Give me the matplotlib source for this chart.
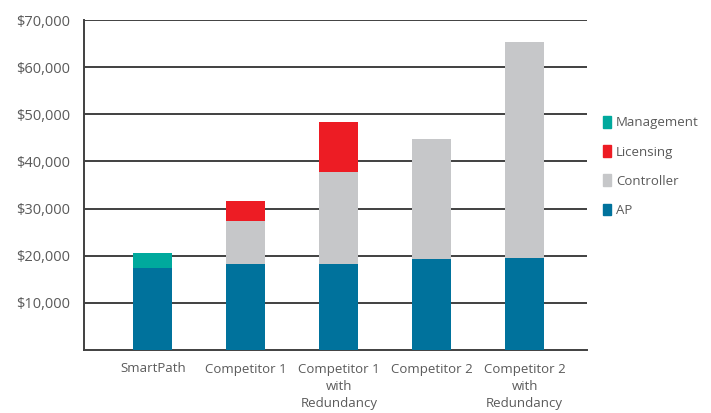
import matplotlib
matplotlib.use("Agg")
import matplotlib.pyplot as plt
from matplotlib.patches import Patch
import numpy as np

categories = ["SmartPath", "Competitor 1", "Competitor 1\nwith\nRedundancy",
              "Competitor 2", "Competitor 2\nwith\nRedundancy"]
ap = [17400, 18200, 18200, 19300, 19500]
controller = [0, 9200, 19600, 25500, 45800]
licensing = [0, 4200, 10600, 0, 0]
management = [3200, 0, 0, 0, 0]
yticks = [10000, 20000, 30000, 40000, 50000, 60000, 70000]
ytick_labels = ["$10,000", "$20,000", "$30,000", "$40,000", "$50,000", "$60,000", "$70,000"]

c_ap = "#00729C"
c_ctrl = "#C6C7C9"
c_lic = "#ED1C24"
c_mgmt = "#00A99D"
txt = "#5a5a5a"
grid = "#404040"

plt.rcParams['font.family'] = ['Open Sans', 'DejaVu Sans']

fig = plt.figure(figsize=(7.11, 4.13), dpi=100)
ax = fig.add_axes([84/711, 63/413, (587-84)/711, (350-20)/413])

x = np.arange(len(categories))
w = 0.42
ap_a = np.array(ap); ct_a = np.array(controller); li_a = np.array(licensing); mg_a = np.array(management)
ax.bar(x, ap_a, w, color=c_ap, zorder=3)
ax.bar(x, ct_a, w, bottom=ap_a, color=c_ctrl, zorder=3)
ax.bar(x, li_a, w, bottom=ap_a + ct_a, color=c_lic, zorder=3)
ax.bar(x, mg_a, w, bottom=ap_a + ct_a + li_a, color=c_mgmt, zorder=3)

ax.set_xlim(-0.74, 4.67)
ax.set_ylim(0, 70000)
for t in yticks:
    ax.axhline(t, color=grid, lw=1.4, zorder=1)

ax.set_yticks(yticks)
ax.set_yticklabels(ytick_labels, color=txt, fontsize=10.5)
ax.set_xticks(x)
ax.set_xticklabels(categories, color=txt, fontsize=9.5, linespacing=1.45)
ax.tick_params(axis='both', length=0)
ax.tick_params(axis='y', pad=10)
ax.tick_params(axis='x', pad=9)
for s in ['top', 'right']:
    ax.spines[s].set_visible(False)
for s in ['left', 'bottom']:
    ax.spines[s].set_color(grid)
    ax.spines[s].set_linewidth(1.4)

handles = [Patch(color=c_mgmt), Patch(color=c_lic), Patch(color=c_ctrl), Patch(color=c_ap)]
labels = ["Management", "Licensing", "Controller", "AP"]
leg = fig.legend(handles, labels, loc='upper left', bbox_to_anchor=(591/711, 1 - 104/413),
                 frameon=False, fontsize=9.5, handlelength=0.6, handleheight=1.0,
                 handletextpad=0.4, labelspacing=1.2, labelcolor=txt)

fig.savefig("out.png", dpi=100)
